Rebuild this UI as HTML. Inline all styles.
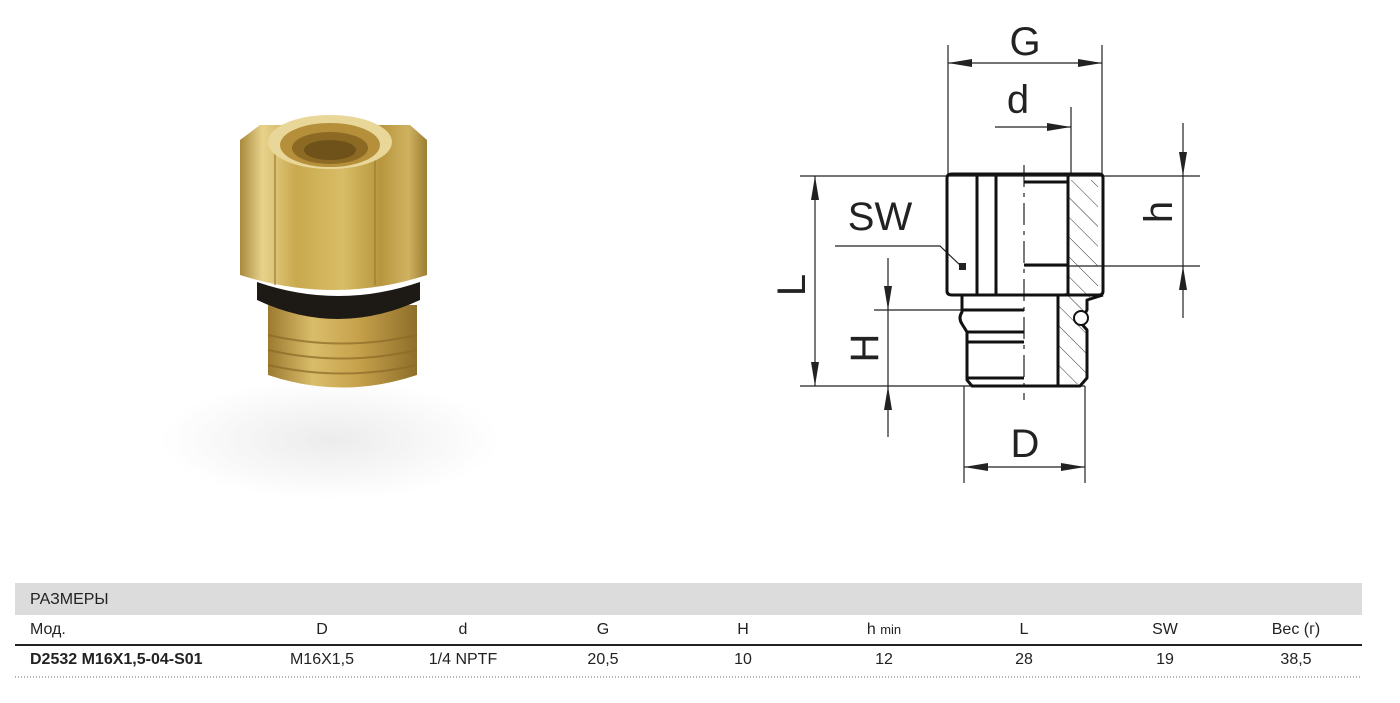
<!DOCTYPE html>
<html><head><meta charset="utf-8"><style>
html,body{margin:0;padding:0;background:#fff;}
body{width:1400px;height:703px;overflow:hidden;position:relative;font-family:"Liberation Sans Narrow","Liberation Sans",sans-serif;}
.t{position:absolute;font-size:16px;color:#222;white-space:nowrap;}
.c{transform:translateX(-50%);}
</style></head><body>
<svg width="1400" height="703" style="position:absolute;left:0;top:0">
<defs>
<linearGradient id="hex" x1="0" x2="1" y1="0" y2="0">
<stop offset="0" stop-color="#a88a3c"/><stop offset="0.12" stop-color="#e8d28c"/><stop offset="0.3" stop-color="#c9a94f"/><stop offset="0.55" stop-color="#d8bd66"/><stop offset="0.75" stop-color="#b8963e"/><stop offset="0.9" stop-color="#cfb260"/><stop offset="1" stop-color="#9c7e34"/>
</linearGradient>
<linearGradient id="thr" x1="0" x2="1" y1="0" y2="0">
<stop offset="0" stop-color="#9c7a30"/><stop offset="0.3" stop-color="#d9bd6a"/><stop offset="0.6" stop-color="#c7a24c"/><stop offset="1" stop-color="#8e6e2a"/>
</linearGradient>
<radialGradient id="shadow" cx="0.5" cy="0.5" r="0.5"><stop offset="0" stop-color="#ececec"/><stop offset="1" stop-color="#fff"/></radialGradient>
<pattern id="hatch" width="14" height="14" patternUnits="userSpaceOnUse" patternTransform="rotate(-45)"><line x1="0" y1="0" x2="0" y2="14" stroke="#333" stroke-width="1"/></pattern>
</defs>
<!-- photo -->
<ellipse cx="330" cy="440" rx="170" ry="60" fill="url(#shadow)"/>
<path d="M268 305 L417 305 L417 375 Q342 400 268 375 Z" fill="url(#thr)"/>
<g stroke="#8a6a26" stroke-width="2" fill="none" opacity="0.7">
<path d="M268 335 Q342 352 417 335"/><path d="M268 350 Q342 367 417 350"/><path d="M268 365 Q342 382 417 365"/></g>
<path d="M257 282 Q338 310 420 282 L420 300 Q338 338 257 300 Z" fill="#1d1a16"/>
<path d="M240 140 L260 125 L410 125 L427 140 L427 275 Q335 305 240 275 Z" fill="url(#hex)"/>
<g stroke="#9b7b32" stroke-width="2" opacity="0.6"><line x1="275" y1="150" x2="275" y2="285"/><line x1="375" y1="150" x2="375" y2="285"/></g>
<ellipse cx="330" cy="142" rx="62" ry="27" fill="#e9d79a"/>
<ellipse cx="330" cy="145" rx="50" ry="22" fill="#b58f3a"/>
<ellipse cx="330" cy="148" rx="38" ry="16" fill="#8c6a24"/>
<ellipse cx="330" cy="150" rx="26" ry="10" fill="#6e5219"/>

<!-- drawing -->
<g stroke="#222" stroke-width="1.2" fill="none">
<line x1="948" y1="45" x2="948" y2="176"/><line x1="1102" y1="45" x2="1102" y2="176"/>
<line x1="948" y1="63" x2="1102" y2="63"/>
<line x1="1071" y1="107" x2="1071" y2="176"/><line x1="995" y1="127" x2="1071" y2="127"/>
<line x1="800" y1="176" x2="1200" y2="176"/>
<line x1="1025" y1="266" x2="1200" y2="266"/>
<line x1="1183" y1="123" x2="1183" y2="318"/>
<line x1="800" y1="386" x2="1085" y2="386"/>
<line x1="815" y1="176" x2="815" y2="386"/>
<line x1="874" y1="310" x2="962" y2="310"/>
<line x1="888" y1="258" x2="888" y2="437"/>
<line x1="964" y1="386" x2="964" y2="483"/><line x1="1085" y1="386" x2="1085" y2="483"/>
<line x1="964" y1="467" x2="1085" y2="467"/>
<polyline points="835,246 940,246 962,267"/>
<line x1="1024" y1="165" x2="1024" y2="400" stroke-dasharray="22,6,4,6"/>
</g>
<g fill="#222">
<polygon points="948,63 972,59 972,67"/><polygon points="1102,63 1078,59 1078,67"/>
<polygon points="1071,127 1047,123 1047,131"/>
<polygon points="1183,176 1179,152 1187,152"/><polygon points="1183,266 1179,290 1187,290"/>
<polygon points="815,176 811,200 819,200"/><polygon points="815,386 811,362 819,362"/>
<polygon points="888,310 884,286 892,286"/><polygon points="888,386 884,410 892,410"/>
<polygon points="964,467 988,463 988,471"/><polygon points="1085,467 1061,463 1061,471"/>
<rect x="959" y="263" width="7" height="7"/>
</g>
<path d="M1068 180 L1098 180 L1098 292 L1087 300 L1087 378 L1080 384 L1058 384 L1058 296 L1068 292 Z" fill="url(#hatch)"/>
<g stroke="#111" stroke-width="3" fill="none" stroke-linejoin="round">
<path d="M952 174 L1099 174 Q1103 174 1103 178 L1103 291 Q1103 295 1099 295 L952 295 Q947 295 947 291 L947 178 Q947 174 952 174 Z"/>
<line x1="977" y1="176" x2="977" y2="295"/><line x1="996" y1="176" x2="996" y2="295"/>
<line x1="1024" y1="182" x2="1068" y2="182"/>
<line x1="1024" y1="265" x2="1068" y2="265"/>
<line x1="1068" y1="176" x2="1068" y2="295"/>
<path d="M962 295 L962 312 Q958 318 962 324 L967 332 L967 380 L972 386 L1080 386 L1087 378 L1087 330 L1080 322 L1087 310 L1087 300 L1103 295"/>
<line x1="1058" y1="296" x2="1058" y2="386"/>
<line x1="962" y1="310" x2="1024" y2="310"/><line x1="967" y1="332" x2="1024" y2="332"/><line x1="967" y1="342" x2="1024" y2="342"/>
<line x1="967" y1="378" x2="1024" y2="378"/>
</g>
<circle cx="1081" cy="318" r="7" fill="#fff" stroke="#111" stroke-width="2"/>
<g font-family="Liberation Sans, sans-serif" font-size="40" fill="#222">
<text x="1025" y="55" text-anchor="middle">G</text>
<text x="1018" y="113" text-anchor="middle">d</text>
<text x="880" y="230" text-anchor="middle">SW</text>
<text x="1025" y="457" text-anchor="middle">D</text>
<text transform="translate(805,285) rotate(-90)" text-anchor="middle">L</text>
<text transform="translate(878,348) rotate(-90)" text-anchor="middle">H</text>
<text transform="translate(1172,212) rotate(-90)" text-anchor="middle">h</text>
</g>
<!-- table -->
<rect x="15" y="583" width="1347" height="32" fill="#dcdcdc"/>
<line x1="15" y1="645" x2="1362" y2="645" stroke="#222" stroke-width="2"/>
<line x1="15" y1="677" x2="1362" y2="677" stroke="#666" stroke-width="1" stroke-dasharray="1,2"/>
</svg>
<div class="t" style="left:30px;top:591px">РАЗМЕРЫ</div>
<div class="t" style="left:30px;top:621px">Мод.</div>
<div class="t c" style="left:322px;top:621px">D</div>
<div class="t c" style="left:463px;top:621px">d</div>
<div class="t c" style="left:603px;top:621px">G</div>
<div class="t c" style="left:743px;top:621px">H</div>
<div class="t c" style="left:884px;top:621px">h <span style="font-size:13px">min</span></div>
<div class="t c" style="left:1024px;top:621px">L</div>
<div class="t c" style="left:1165px;top:621px">SW</div>
<div class="t c" style="left:1296px;top:621px">Вес (г)</div>
<div class="t" style="left:30px;top:651px;font-weight:bold">D2532 M16X1,5-04-S01</div>
<div class="t c" style="left:322px;top:651px">M16X1,5</div>
<div class="t c" style="left:463px;top:651px">1/4 NPTF</div>
<div class="t c" style="left:603px;top:651px">20,5</div>
<div class="t c" style="left:743px;top:651px">10</div>
<div class="t c" style="left:884px;top:651px">12</div>
<div class="t c" style="left:1024px;top:651px">28</div>
<div class="t c" style="left:1165px;top:651px">19</div>
<div class="t c" style="left:1296px;top:651px">38,5</div>
</body></html>
